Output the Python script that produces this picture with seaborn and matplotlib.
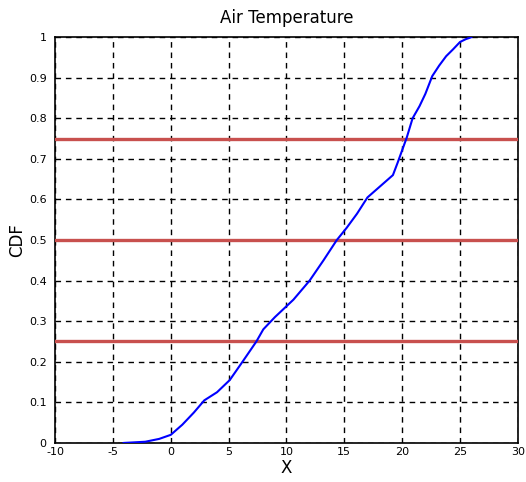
import matplotlib
matplotlib.use("Agg")
import matplotlib.pyplot as plt
import seaborn as sns
import pandas as pd

temp_x = [-4.1, -2.2, -1.0, 0.0, 1.0, 2.0, 2.9, 4.0, 5.1, 6.2, 7.4, 8.0, 9.0, 10.6,
          12.0, 13.2, 14.35, 15.2, 16.1, 17.0, 18.2, 19.2, 19.6, 20.4, 20.9, 21.5,
          22.0, 22.6, 23.2, 23.8, 24.4, 25.0, 25.5, 26.0]
cdf_y = [0.0, 0.003, 0.01, 0.02, 0.045, 0.075, 0.105, 0.125, 0.155, 0.20, 0.25, 0.28,
         0.31, 0.353, 0.40, 0.45, 0.50, 0.53, 0.565, 0.605, 0.635, 0.66, 0.69, 0.753,
         0.80, 0.83, 0.86, 0.904, 0.93, 0.953, 0.97, 0.988, 0.995, 1.0]
quantile_levels = [0.25, 0.5, 0.75]
x_ticks = [-10, -5, 0, 5, 10, 15, 20, 25, 30]
y_ticks = [0, 0.1, 0.2, 0.3, 0.4, 0.5, 0.6, 0.7, 0.8, 0.9, 1]
y_ticklabels = ["0", "0.1", "0.2", "0.3", "0.4", "0.5", "0.6", "0.7", "0.8", "0.9", "1"]

sns.set_style("white")
plt.rcParams['font.family'] = ['DejaVu Sans']
plt.rcParams['text.color'] = 'black'
plt.rcParams['axes.labelcolor'] = 'black'

fig = plt.figure(figsize=(5.26, 4.82), dpi=100)
ax = fig.add_axes([0.1046, 0.081, 0.880, 0.842])

df = pd.DataFrame({"x": temp_x, "cdf": cdf_y})
sns.lineplot(data=df, x="x", y="cdf", ax=ax, color="#0000ff", linewidth=1.5,
             estimator=None, sort=False, zorder=4)

for q in quantile_levels:
    ax.axhline(q, color="#c8504e", linewidth=2.4, zorder=3)

ax.set_xlim(-10, 30)
ax.set_ylim(0, 1)
ax.set_xticks(x_ticks)
ax.set_xticklabels([str(t) for t in x_ticks], fontsize=8)
ax.set_yticks(y_ticks)
ax.set_yticklabels(y_ticklabels, fontsize=8)
ax.grid(True, color="black", linestyle=(0, (4, 3.5)), linewidth=1.0, zorder=1)
ax.set_axisbelow(True)
ax.tick_params(direction="in", length=4, width=1, colors="black")
ax.tick_params(axis="x", pad=3)
ax.tick_params(axis="y", pad=6)
for s in ax.spines.values():
    s.set_color("black")
    s.set_linewidth(1.2)

ax.set_title("Air Temperature", fontsize=12, pad=10, color="black")
ax.set_xlabel("X", fontsize=12, labelpad=1)
ax.set_ylabel("CDF", fontsize=12, labelpad=2)

fig.savefig("out.png", dpi=100)
